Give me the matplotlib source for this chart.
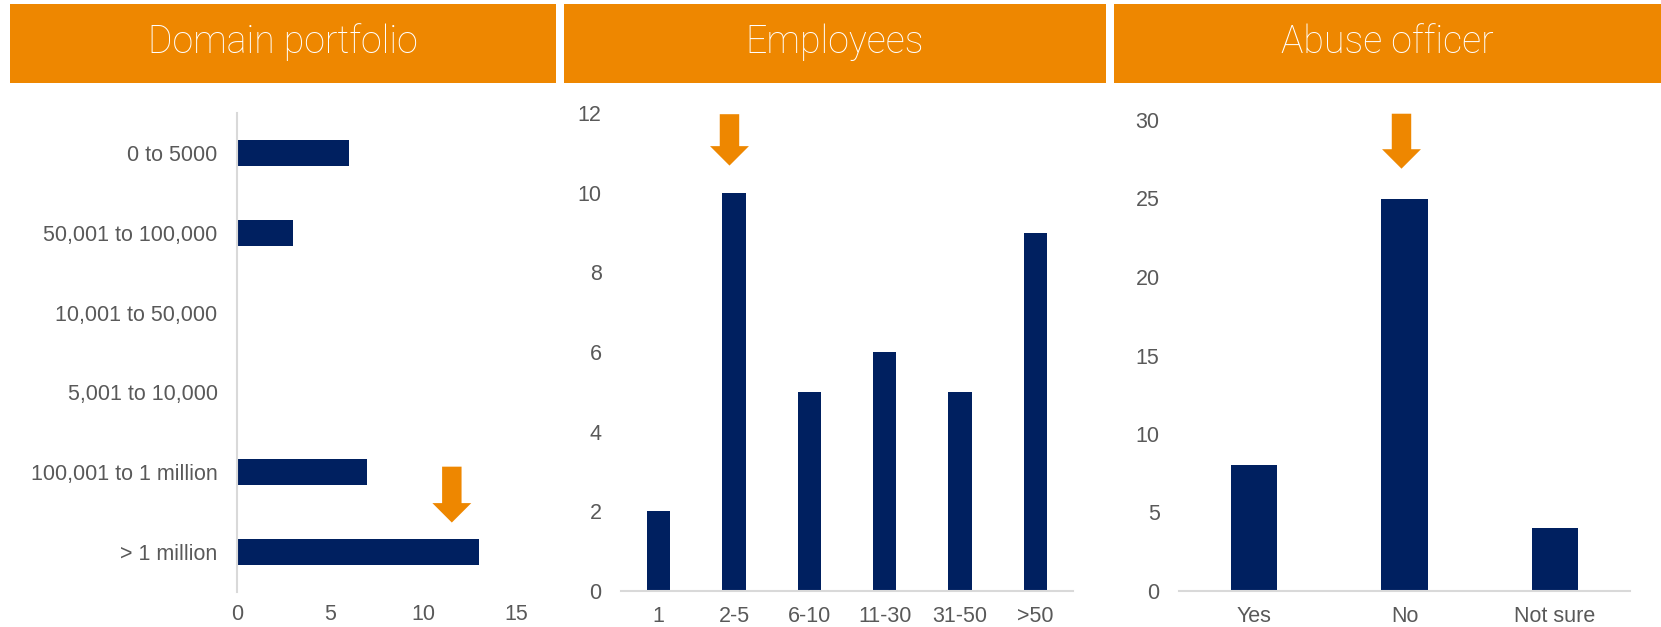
import matplotlib.pyplot as plt
from matplotlib.patches import Rectangle

# survey answers
portfolio_labels = ["0 to 5000", "50,001 to 100,000", "10,001 to 50,000",
                    "5,001 to 10,000", "100,001 to 1 million", "> 1 million"]
portfolio_counts = [6, 3, 0, 0, 7, 13]

employee_labels = ["1", "2-5", "6-10", "11-30", "31-50", ">50"]
employee_counts = [2, 10, 5, 6, 5, 9]

abuse_labels = ["Yes", "No", "Not sure"]
abuse_counts = [8, 25, 4]

headers = ["Domain portfolio", "Employees", "Abuse officer"]

NAVY = "#002060"
ORANGE = "#EE8700"
GREY = "#595959"
LINE = "#D9D9D9"

W, H = 1661, 627
fig = plt.figure(figsize=(W / 100, H / 100), dpi=100)


def px_axes(x0, y0, x1, y1):
    return fig.add_axes([x0 / W, 1 - y1 / H, (x1 - x0) / W, (y1 - y0) / H])


# orange header bars
for (x0, x1), title in zip([(10, 556), (564, 1106), (1114, 1661)], headers):
    fig.patches.append(Rectangle((x0 / W, 1 - 83 / H), (x1 - x0) / W, 79 / H,
                                 transform=fig.transFigure, color=ORANGE, lw=0))
    fig.text((x0 + x1) / 2 / W, 1 - 42 / H, title, color="white", fontsize=27,
             family="Roboto", fontweight="light", ha="center", va="center")

tick_font = dict(family="Liberation Sans", size=15.5)


def style(ax):
    for s in ax.spines.values():
        s.set_visible(False)
    ax.tick_params(length=0, colors=GREY)
    for lab in ax.get_xticklabels() + ax.get_yticklabels():
        lab.set_fontproperties(tick_font)


def arrow(ax, x, y_top, y_tip):
    ax.annotate("", xy=(x, y_tip), xytext=(x, y_top), annotation_clip=False,
                arrowprops=dict(arrowstyle="simple,head_length=14,head_width=28,tail_width=14",
                                mutation_scale=1, color=ORANGE, lw=0,
                                shrinkA=0, shrinkB=0))


# Domain portfolio (horizontal bars)
ax1 = px_axes(237, 113, 516, 592)
ax1.barh(range(len(portfolio_labels)), portfolio_counts, height=0.32, color=NAVY)
ax1.set_yticks(range(len(portfolio_labels)), portfolio_labels)
ax1.set_xticks([0, 5, 10, 15])
ax1.set_xlim(0, 15)
ax1.set_ylim(len(portfolio_labels) - 0.5, -0.5)
style(ax1)
ax1.spines["left"].set_visible(True)
ax1.spines["left"].set_color(LINE)
ax1.spines["left"].set_linewidth(1.5)
ax1.tick_params(axis="y", pad=14)
ax1.tick_params(axis="x", pad=9)
arrow(ax1, 11.55, 3.93, 4.63)

# Employees
ax2 = px_axes(621, 113, 1073, 591)
ax2.bar(range(len(employee_labels)), employee_counts, width=0.31, color=NAVY)
ax2.set_xticks(range(len(employee_labels)), employee_labels)
ax2.set_yticks(range(0, 13, 2))
ax2.set_xlim(-0.5, len(employee_labels) - 0.5)
ax2.set_ylim(0, 12)
style(ax2)
ax2.spines["bottom"].set_visible(True)
ax2.spines["bottom"].set_color(LINE)
ax2.spines["bottom"].set_linewidth(1.5)
ax2.tick_params(axis="y", pad=14)
ax2.tick_params(axis="x", pad=11)
arrow(ax2, 0.94, 11.97, 10.68)

# Abuse officer
ax3 = px_axes(1179, 120, 1630, 591)
ax3.bar(range(len(abuse_labels)), abuse_counts, width=0.31, color=NAVY)
ax3.set_xticks(range(len(abuse_labels)), abuse_labels)
ax3.set_yticks(range(0, 31, 5))
ax3.set_xlim(-0.5, len(abuse_labels) - 0.5)
ax3.set_ylim(0, 30)
style(ax3)
ax3.spines["bottom"].set_visible(True)
ax3.spines["bottom"].set_color(LINE)
ax3.spines["bottom"].set_linewidth(1.5)
ax3.tick_params(axis="y", pad=14)
ax3.tick_params(axis="x", pad=11)
arrow(ax3, 0.98, 30.4, 26.9)

fig.savefig("out.png", dpi=100)
